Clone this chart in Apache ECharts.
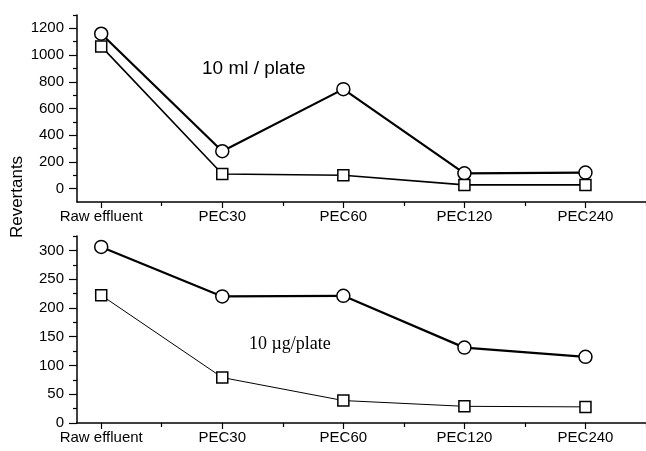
<!DOCTYPE html>
<html>
<head>
<meta charset="utf-8">
<script src="https://cdn.jsdelivr.net/npm/echarts@6/dist/echarts.min.js"></script>
<style>
  html, body { margin: 0; padding: 0; background: #fff; }
  #chart { width: 646px; height: 451px; }
</style>
</head>
<body>
<div id="chart"></div>
<script>
// Treatment stages along the x axis
const categories = ['Raw effluent', 'PEC30', 'PEC60', 'PEC120', 'PEC240'];

// Upper panel: 10 ml / plate
const mlCircle = [1160, 280, 745, 115, 120];
const mlSquare = [1065, 110, 100, 28, 28];

// Lower panel: 10 µg/plate
const ugCircle = [306, 220, 221, 131, 115];
const ugSquare = [222, 79, 39, 29, 28];

// Tick values
const topMajor = [0, 200, 400, 600, 800, 1000, 1200];
const topMinor = [100, 300, 500, 700, 900, 1100, 1300];
const botMajor = [0, 50, 100, 150, 200, 250, 300];
const botMinor = [25, 75, 125, 175, 225, 275, 325];
const xMajor = [1, 2, 3, 4, 5];
const xMinor = [1.5, 2.5, 3.5, 4.5, 5.5];

const FONT = 'Arial, "Liberation Sans", sans-serif';
const toPairs = vals => vals.map((v, i) => [i + 1, v]);

function xAxes(gridIndex) {
  const base = {
    type: 'value', gridIndex, min: 0.8, max: 5.5, position: 'bottom',
    splitLine: { show: false }
  };
  return [
    Object.assign({}, base, {
      axisLine: { show: true, onZero: false, lineStyle: { color: '#000', width: 1.5 } },
      axisTick: { show: true, customValues: xMajor, length: 6, lineStyle: { color: '#000', width: 1.2 } },
      axisLabel: {
        show: true, customValues: xMajor, margin: 7, color: '#000',
        fontFamily: FONT, fontSize: 15,
        formatter: v => categories[Math.round(v) - 1] || ''
      }
    }),
    Object.assign({}, base, {
      axisLine: { show: false, onZero: false },
      axisTick: { show: true, customValues: xMinor, length: 4, lineStyle: { color: '#000', width: 1.2 } },
      axisLabel: { show: false }
    })
  ];
}

function yAxes(gridIndex, min, max, major, minor) {
  const base = {
    type: 'value', gridIndex, min, max, position: 'left',
    splitLine: { show: false }
  };
  return [
    Object.assign({}, base, {
      axisLine: { show: true, onZero: false, lineStyle: { color: '#000', width: 1.5 } },
      axisTick: { show: true, customValues: major, length: 8, lineStyle: { color: '#000', width: 1.2 } },
      axisLabel: {
        show: true, customValues: major, margin: 13, color: '#000',
        fontFamily: FONT, fontSize: 15,
        formatter: v => String(v)
      }
    }),
    Object.assign({}, base, {
      axisLine: { show: false, onZero: false },
      axisTick: { show: true, customValues: minor, length: 4, lineStyle: { color: '#000', width: 1.2 } },
      axisLabel: { show: false }
    })
  ];
}

function lineSeries(data, xi, yi, symbol, size, width) {
  return {
    type: 'line', xAxisIndex: xi, yAxisIndex: yi,
    data: toPairs(data),
    symbol, symbolSize: size, showAllSymbol: true,
    lineStyle: { color: '#000', width },
    itemStyle: { color: '#fff', borderColor: '#000', borderWidth: 1.5 },
    emphasis: { disabled: true },
    z: 3
  };
}

const chart = echarts.init(document.getElementById('chart'), null, { renderer: 'canvas' });
chart.setOption({
  animation: false,
  backgroundColor: '#fff',
  grid: [
    { left: 77, top: 15, width: 569, height: 187 },
    { left: 77, top: 236, width: 569, height: 187 }
  ],
  xAxis: [...xAxes(0), ...xAxes(1)],
  yAxis: [
    ...yAxes(0, -100, 1300, topMajor, topMinor),
    ...yAxes(1, 0, 325, botMajor, botMinor)
  ],
  series: [
    lineSeries(mlCircle, 0, 0, 'circle', 13, 2.2),
    lineSeries(mlSquare, 0, 0, 'rect', 11, 1.6),
    lineSeries(ugCircle, 2, 2, 'circle', 13, 2.2),
    lineSeries(ugSquare, 2, 2, 'rect', 11, 1)
  ],
  graphic: [
    {
      type: 'text', x: 202, y: 69,
      style: { text: '10 ml / plate', font: '19px ' + FONT, fill: '#000', verticalAlign: 'middle' }
    },
    {
      type: 'text', x: 249, y: 344,
      style: {
        text: '10 \u00b5g/plate',
        font: '18px "Liberation Serif", "Times New Roman", serif',
        fill: '#000', verticalAlign: 'middle'
      }
    },
    {
      type: 'text', x: 17, y: 197, rotation: Math.PI / 2,
      style: {
        text: 'Revertants', font: '17px ' + FONT, fill: '#000',
        align: 'center', verticalAlign: 'middle'
      }
    }
  ]
});
</script>
</body>
</html>
